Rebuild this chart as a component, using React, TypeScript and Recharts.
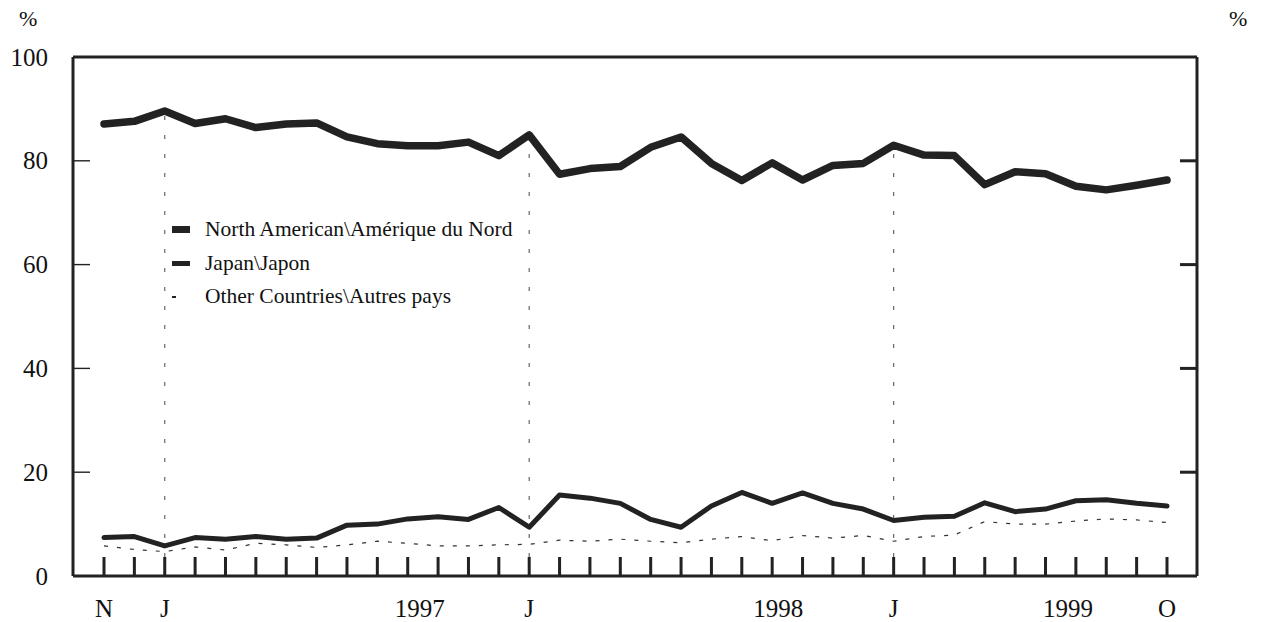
import React from 'react';
import { LineChart, Line, XAxis, YAxis, ReferenceLine, Legend } from 'recharts';

const months = [
  '1996-11', '1996-12',
  '1997-01', '1997-02', '1997-03', '1997-04', '1997-05', '1997-06', '1997-07', '1997-08', '1997-09', '1997-10', '1997-11', '1997-12',
  '1998-01', '1998-02', '1998-03', '1998-04', '1998-05', '1998-06', '1998-07', '1998-08', '1998-09', '1998-10', '1998-11', '1998-12',
  '1999-01', '1999-02', '1999-03', '1999-04', '1999-05', '1999-06', '1999-07', '1999-08', '1999-09', '1999-10',
];

const monthLabels = [
  'N', '',
  'J', '', '', '', '', '', '', '', '1997', '', '', '',
  'J', '', '', '', '', '', '', '', '1998', '', '', '',
  'J', '', '', '', '', '', '1999', '', '', 'O',
];

const northAmerica = [
  87.1, 87.6,
  89.6, 87.2, 88.1, 86.4, 87.1, 87.3, 84.6, 83.3, 82.9, 82.9, 83.6, 81.0,
  85.0, 77.4, 78.5, 78.9, 82.6, 84.6, 79.5, 76.2, 79.6, 76.3, 79.1, 79.5,
  83.0, 81.1, 81.0, 75.4, 77.9, 77.5, 75.1, 74.4, 75.3, 76.3,
];

const japan = [
  7.4, 7.6,
  5.8, 7.4, 7.1, 7.6, 7.1, 7.3, 9.8, 10.0, 11.0, 11.4, 10.9, 13.2,
  9.4, 15.6, 15.0, 14.0, 10.9, 9.4, 13.5, 16.1, 14.0, 16.0, 14.0, 12.9,
  10.7, 11.3, 11.5, 14.1, 12.4, 12.9, 14.5, 14.7, 14.0, 13.5,
];

const otherCountries = [
  5.8, 5.1,
  4.7, 5.6, 5.0, 6.3, 6.0, 5.5, 6.0, 6.7, 6.3, 5.8, 5.8, 6.0,
  6.1, 6.9, 6.7, 7.1, 6.7, 6.4, 7.1, 7.6, 6.8, 7.8, 7.3, 7.8,
  6.7, 7.6, 7.9, 10.5, 10.0, 10.0, 10.6, 11.0, 10.8, 10.3,
];

const yTicks = [0, 20, 40, 60, 80, 100];

const seriesNames = {
  na: 'North American\\Amérique du Nord',
  jp: 'Japan\\Japon',
  ot: 'Other Countries\\Autres pays',
};

const data = months.map((m, i) => ({
  month: m,
  na: northAmerica[i],
  jp: japan[i],
  ot: otherCountries[i],
}));

const januaries = months
  .map((m, i) => ({ m, v: northAmerica[i] }))
  .filter((d) => d.m.endsWith('-01'));

const FONT = "'Liberation Serif', 'Times New Roman', Times, serif";
const INK = '#222';

const CHART_W = 1265;
const LEFT_W = 65;
const RIGHT_W = 76;
const PLOT_W = CHART_W - LEFT_W - RIGHT_W;

const labelShift: Record<string, number> = { '1997': 12, '1998': 6, '1999': -8 };

const XTick = (props: any) => {
  const { x, y, payload } = props;
  const idx = months.indexOf(payload.value);
  const label = monthLabels[idx] || '';
  const dx = labelShift[label] ?? 0;
  return (
    <g>
      <rect x={x - 1.5} y={y - 19} width={3} height={19} fill={INK} />
      {label ? (
        <text x={x + dx} y={y + 41} textAnchor="middle" fontFamily={FONT} fontSize={25} fill="#111">
          {label}
        </text>
      ) : null}
    </g>
  );
};

const LeftTick = (props: any) => {
  const { x, y, payload } = props;
  const v = payload.value;
  const inner = v > 0 && v < 100;
  return (
    <g>
      {inner ? <rect x={x} y={y - 0.7} width={17} height={1.4} fill={INK} /> : null}
      {inner ? <rect x={x + PLOT_W - 17} y={y - 1.5} width={17} height={3} fill={INK} /> : null}
      <text x={x - 25} y={y} dy={8.5} textAnchor="end" fontFamily={FONT} fontSize={25} fill="#111">
        {v}
      </text>
    </g>
  );
};

const RightTick = (props: any) => {
  const { x, y, payload } = props;
  const v = payload.value;
  return (
    <g>
      <text x={x + 25} y={y} dy={8.5} textAnchor="start" fontFamily={FONT} fontSize={25} fill="#111">
        {v}
      </text>
    </g>
  );
};

const legendRows = [
  { key: 'na', h: 7, w: 18 },
  { key: 'jp', h: 5, w: 18 },
  { key: 'ot', h: 1.5, w: 4 },
];

const LegendContent = () => (
  <div style={{ fontFamily: FONT, fontSize: 21.5, color: '#111' }}>
    {legendRows.map((r) => (
      <div key={r.key} style={{ display: 'flex', alignItems: 'center', height: 33.5 }}>
        <div style={{ width: 33, display: 'flex', alignItems: 'center' }}>
          <div style={{ width: r.w, height: r.h, background: INK }} />
        </div>
        <span style={{ whiteSpace: 'nowrap' }}>{(seriesNames as any)[r.key]}</span>
      </div>
    ))}
  </div>
);

export default function App() {
  return (
    <div style={{ position: 'relative', width: CHART_W, height: 614 }}>
      <div style={{ position: 'absolute', left: 11, top: -2, fontFamily: FONT, fontSize: 22, color: '#111' }}>%</div>
      <div style={{ position: 'absolute', left: 1221, top: -2, fontFamily: FONT, fontSize: 22, color: '#111' }}>%</div>
      <LineChart width={CHART_W} height={614} data={data} margin={{ top: 49, right: 0, bottom: 0, left: 0 }}>
        <XAxis
          dataKey="month"
          height={46}
          padding={{ left: 31, right: 30 }}
          interval={0}
          tickSize={0}
          tickMargin={0}
          tickLine={false}
          axisLine={{ stroke: INK, strokeWidth: 3 }}
          tick={<XTick />}
        />
        <YAxis
          yAxisId="left"
          orientation="left"
          width={LEFT_W}
          domain={[0, 100]}
          ticks={yTicks}
          interval={0}
          tickSize={0}
          tickMargin={0}
          tickLine={false}
          axisLine={{ stroke: INK, strokeWidth: 3 }}
          tick={<LeftTick />}
        />
        <YAxis
          yAxisId="right"
          orientation="right"
          width={RIGHT_W}
          domain={[0, 100]}
          ticks={yTicks}
          interval={0}
          tickSize={0}
          tickMargin={0}
          tickLine={false}
          axisLine={{ stroke: INK, strokeWidth: 3 }}
          tick={<RightTick />}
        />
        <ReferenceLine yAxisId="left" y={100} stroke={INK} strokeWidth={3} />
        {januaries.map((j) => (
          <ReferenceLine
            key={j.m}
            yAxisId="left"
            segment={[{ x: j.m, y: 0 }, { x: j.m, y: j.v }]}
            stroke="#666"
            strokeWidth={1.2}
            strokeDasharray="4 15"
          />
        ))}
        <Legend
          layout="vertical"
          align="center"
          verticalAlign="middle"
          wrapperStyle={{ left: 164, top: 205, width: 'auto', height: 'auto' }}
          content={<LegendContent />}
        />
        <Line
          yAxisId="left"
          dataKey="ot"
          name={seriesNames.ot}
          type="linear"
          stroke="#333"
          strokeWidth={1.2}
          strokeDasharray="4 9"
          dot={false}
          isAnimationActive={false}
        />
        <Line
          yAxisId="left"
          dataKey="jp"
          name={seriesNames.jp}
          type="linear"
          stroke={INK}
          strokeWidth={5}
          strokeLinecap="round"
          strokeLinejoin="round"
          dot={false}
          isAnimationActive={false}
        />
        <Line
          yAxisId="left"
          dataKey="na"
          name={seriesNames.na}
          type="linear"
          stroke={INK}
          strokeWidth={7.5}
          strokeLinecap="round"
          strokeLinejoin="round"
          dot={false}
          isAnimationActive={false}
        />
      </LineChart>
    </div>
  );
}
